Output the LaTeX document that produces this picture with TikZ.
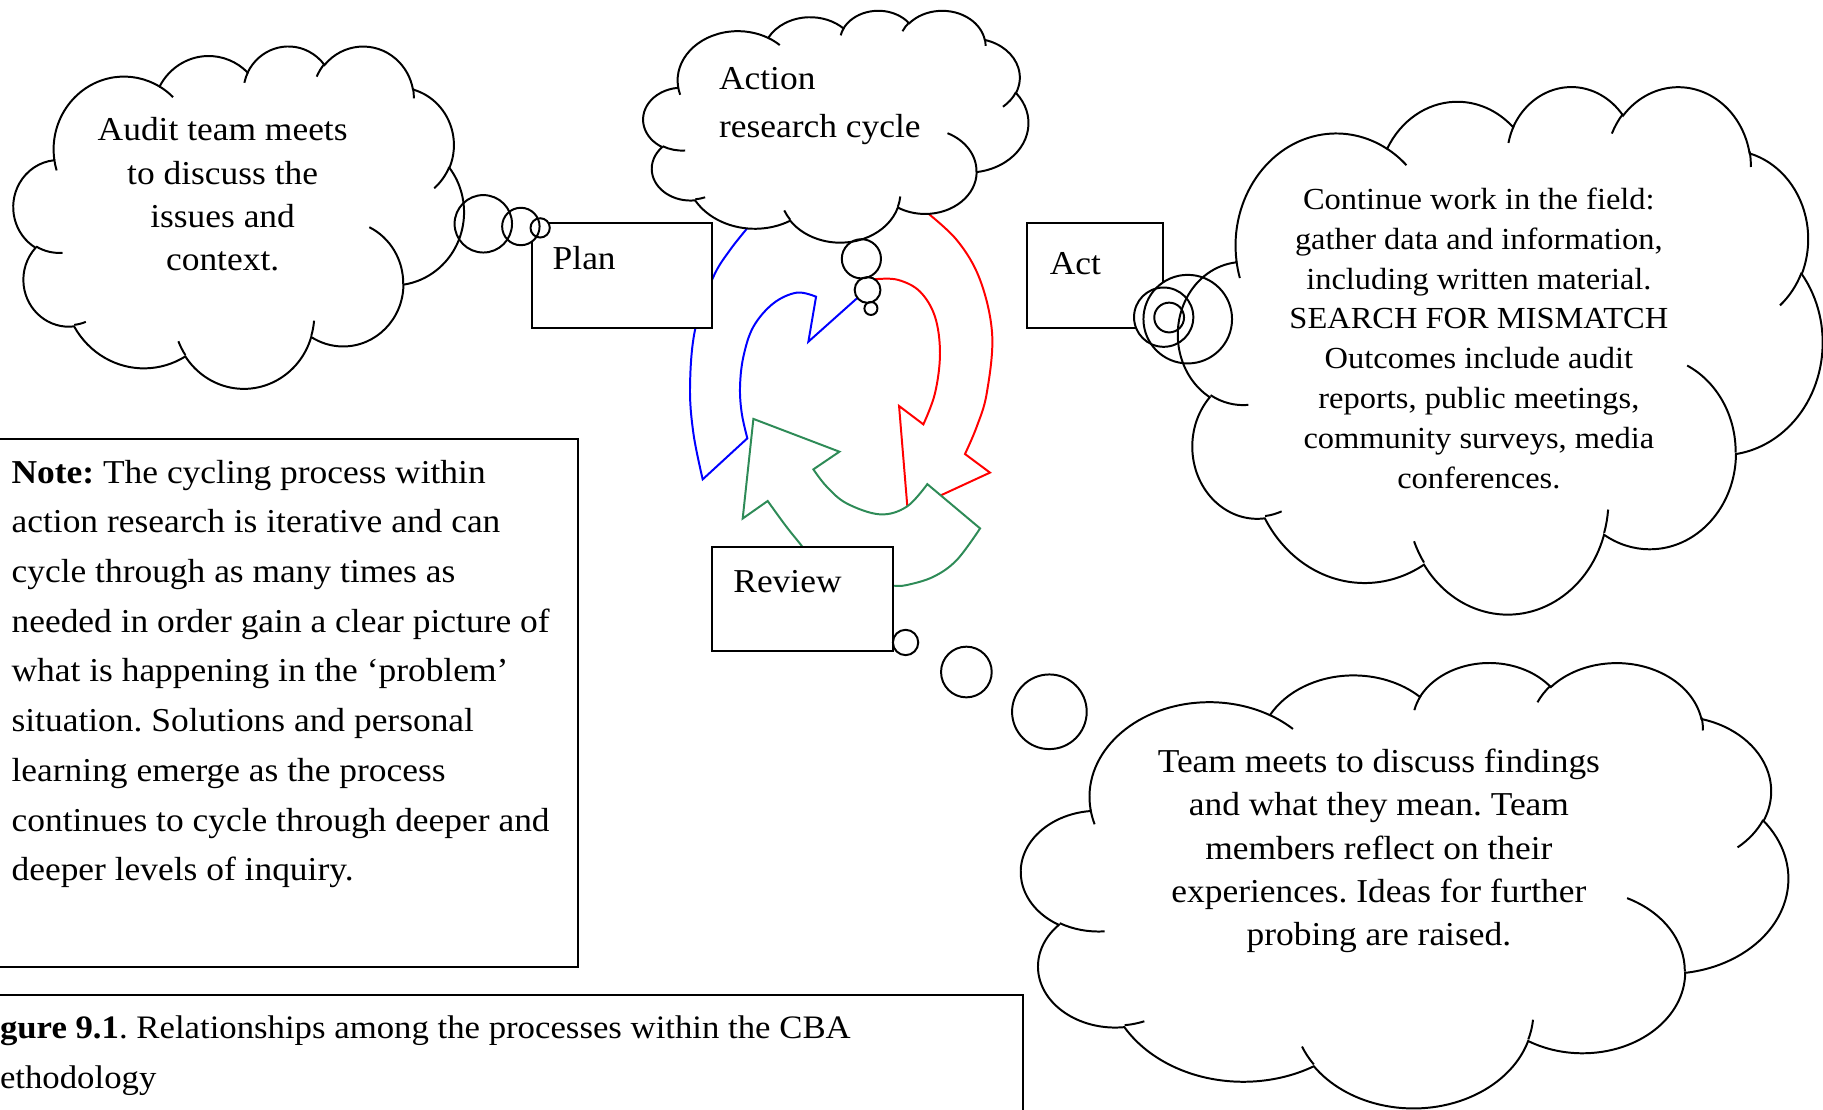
\documentclass[tikz,border=0pt]{standalone}
\usepackage{fontspec}
\setmainfont{Liberation Serif}[FakeStretch=1.06]
\frenchspacing

\definecolor{cyclegreen}{RGB}{46,139,87}

% Cloud geometry: the outline lives in a 4320 x 4320 shape space that is
% stretched onto the box (x, y, w, h) set with \cldset.
\newcommand\cldset[4]{\def\cldx{#1}\def\cldy{#2}\def\cldw{#3}\def\cldh{#4}}
\newcommand\cldpt[2]{({\cldx+#1/4320*\cldw},{\cldy+#2/4320*\cldh})}
% elliptic arc: radii wR, hR; start and sweep as visual angles (degrees)
\newcommand\cloudarc[4]{%
  arc[x radius={#1/4320*\cldw}, y radius={#2/4320*\cldh},
      start angle={atan2(#1*sin(#3),#2*cos(#3))},
      delta angle={mod(atan2(#1*sin(#3+#4),#2*cos(#3+#4))-atan2(#1*sin(#3),#2*cos(#3))+720,360)}]}
\newcommand\cloudoutline{%
  \cldpt{390}{1437}
  \cloudarc{675.3}{919.0}{-190.4875}{123.7805}
  \cloudarc{533.3}{726.7}{-144.1024}{89.9452}
  \cloudarc{436.5}{594.5}{-145.8079}{99.7230}
  \cloudarc{485.7}{659.5}{-130.9861}{117.2417}
  \cloudarc{533.3}{727.3}{-78.7089}{109.0269}
  \cloudarc{677.5}{922.0}{-46.2673}{130.2690}
  \cloudarc{578.5}{786.7}{0.6250}{114.0333}
  \cloudarc{675.2}{921.5}{22.4516}{115.1726}
  \cloudarc{772.0}{1054.3}{66.2426}{75.7110}
  \cloudarc{436.0}{591.8}{-274.9421}{146.7356}
  \cloudarc{434.5}{594.5}{-246.8285}{152.5189}
  -- cycle}
% the short inner strokes where two lobes meet
\newcommand\cloudcreases{%
  \cldpt{469.3}{2617.7}  \cloudarc{434.5}{594.5}{86.7420}{26.4295}
  \cldpt{692.8}{3489.9}  \cloudarc{436.0}{591.8}{73.6105}{11.4475}
  \cldpt{1647.8}{3909.0} \cloudarc{675.2}{921.5}{137.6242}{14.0811}
  \cldpt{2882.7}{3475.1} \cloudarc{675.2}{921.5}{6.4533}{15.9984}
  \cldpt{3412.9}{2295.4} \cloudarc{578.5}{786.7}{-70.2924}{70.9174}
  \cldpt{4179.8}{1535.4} \cloudarc{533.3}{727.3}{30.3180}{27.7515}
  \cldpt{3832.4}{542.6}  \cloudarc{485.7}{659.5}{-13.7443}{14.8589}
  \cldpt{2907.8}{395.2}  \cloudarc{485.7}{659.5}{-149.1815}{18.1954}
  \cldpt{2214.1}{472.0}  \cloudarc{436.5}{594.5}{-163.4943}{17.6864}
  \cldpt{1400.0}{519.2}  \cloudarc{675.3}{919.0}{-66.7070}{12.3194}
  \cldpt{412.7}{1578.9}  \cloudarc{675.3}{919.0}{157.6544}{11.8582}}

% a cloud callout: box, then three thought bubbles (x,y,r)
\newcommand\thoughtcloud[4]{%
  \cldset#1
  \fill[white] \cloudoutline;
  \foreach \bx/\by/\br in {#2,#3,#4} \fill[white] (\bx,\by) circle[radius=\br];
  \draw[cloudline] \cloudoutline;
  \draw[cloudline] \cloudcreases;
  \foreach \bx/\by/\br in {#2,#3,#4} \draw[cloudline] (\bx,\by) circle[radius=\br];}

% block of lines with fixed baseline distance; the node baseline is the first line
\newcommand\txtblock[4]{{\fontsize{#2}{#3}\selectfont\begin{tabular}[t]{@{}#1@{}}#4\end{tabular}}}

% green cycle arrow (open outline; the tail end runs under the Review box)
\newcommand\greenpath{%
  plot[smooth, tension=0.6] coordinates {(700,484) (690.1,470.2) (676,452.5) (660.3,430.9)}
  -- (638.8,446.0) -- (648.0,360.3) -- (722.0,388.5)
  -- plot[smooth, tension=0.6] coordinates {(699.6,403.7) (711.1,418.6) (728.3,433.0) (756.9,442.4) (779.9,435.8) (797.6,416.4)}
  -- plot[smooth, tension=0.6] coordinates {(843.0,454.5) (822.9,481.7) (802.8,496.1) (779.9,503.2) (768.4,503.8) (755,504)}}

\tikzset{
  cloudline/.style={draw=black, line width=0.85pt},
  stepbox/.style={draw=black, fill=white, line width=0.85pt, inner sep=0pt, outer sep=0pt, anchor=north west},
  txt/.style={inner sep=0pt, outer sep=0pt, anchor=base},
  cyclearrow/.style={line width=0.85pt, line join=miter},
}

\begin{document}
\begin{tikzpicture}[x=0.5pt, y=-0.5pt]
\useasboundingbox (0,0) rectangle (1568,954);
\clip (0,0) rectangle (1568,954);

% ---- the three arrows of the action research cycle
\draw[cyclearrow, blue]
  plot[smooth, tension=0.6] coordinates {(646.6,191.7) (627.9,215.0) (613.0,239.4) (597.8,283.8) (593.5,332.6) (596.4,372.7) (604.4,412.3)}
  -- plot[smooth, tension=0.6] coordinates {(642.8,377.0) (638.0,355.5) (636.5,332.6) (639.4,306.8) (648.0,281.0) (665.2,260.9) (685.3,251.7) (701.9,255.2)}
  -- (695.3,293.9) -- (745,249.5);
\draw[cyclearrow, red]
  plot[smooth, tension=0.6] coordinates {(793.2,179.5) (822.9,206.4) (843.0,240.8) (853.4,288.0) (848.7,338.3) (840.1,367.0) (830.0,390.5)}
  -- (851.5,406.5) -- (780.7,439.2) -- (773.3,349.2)
  -- plot[smooth, tension=0.6] coordinates {(794.2,365.0) (804.2,338.3) (808.5,303.9) (804.2,272.4) (791.3,250.8) (772.7,240.8) (754.1,240.0) (749,241.5)};
\fill[white] \greenpath -- cycle;
\draw[cyclearrow, cyclegreen] \greenpath;

% ---- step boxes
\node[stepbox, minimum width=77.4pt, minimum height=45.15pt] (plan) at (457.3,192.1) {};
\node[txt, anchor=base west] (plantext) at (475.4,231.7) {\txtblock{l}{14.37}{16}{Plan}};
\node[stepbox, minimum width=58.25pt, minimum height=45.15pt] (act) at (883.6,192.1) {};
\node[txt, anchor=base west] (acttext) at (903,236) {\txtblock{l}{14.37}{16}{Act}};
\node[stepbox, minimum width=77.85pt, minimum height=44.75pt] (review) at (612.1,470.2) {};
\node[txt, anchor=base west] (reviewtext) at (630.8,509.3) {\txtblock{l}{14.37}{16}{Review}};

% ---- thought clouds
\thoughtcloud{{11.7}{39}{387.3}{294.4}}{415.7/192.5/24.7}{448/194.8/16.1}{464.6/196/8.3}
\node[txt] (audit) at (191.5,121) {\txtblock{c}{14.37}{18.65}{Audit team meets\\to discuss the\\issues and\\context.}};

\thoughtcloud{{553.4}{8.6}{331.1}{199.4}}{740.9/222.6/16.85}{746.2/249.4/11.1}{749.1/265.3/5.6}
\node[txt, anchor=base west] (cycle) at (618.5,76.8) {\txtblock{l}{14.37}{20.65}{Action\\research cycle}};

\thoughtcloud{{1013.5}{73.4}{554}{453.6}}{1021.6/274.5/38.1}{1000.9/272.8/25.5}{1005.6/273.1/12.8}
\node[txt] (field) at (1272,180) {\txtblock{c}{13.17}{17.15}{Continue work in the field:\\gather data and information,\\including written material.\\SEARCH FOR MISMATCH\\Outcomes include audit\\reports, public meetings,\\community surveys, media\\conferences.}};

\thoughtcloud{{878.5}{569}{659.5}{383}}{902.6/612.2/32.1}{831.2/578/21.8}{778.9/552.6/10.9}
\node[txt] (findings) at (1186,664.5) {\txtblock{c}{14.37}{18.625}{Team meets to discuss findings\\and what they mean. Team\\members reflect on their\\experiences. Ideas for further\\probing are raised.}};

% ---- note and caption
\node[stepbox, minimum width=253.5pt, minimum height=226.75pt] (notebox) at (-10,378) {};
\node[txt, anchor=base west] (note) at (10,415.5) {\txtblock{l}{14.37}{21.375}{\textbf{Note:} The cycling process within\\action research is iterative and can\\cycle through as many times as\\needed in order gain a clear picture of\\what is happening in the `problem'\\situation. Solutions and personal\\learning emerge as the process\\continues to cycle through deeper and\\deeper levels of inquiry.}};
\node[stepbox, minimum width=445pt, minimum height=72pt] (captionbox) at (-10,856) {};
\node[txt, anchor=base west] (caption) at (0,893) {\txtblock{l}{14.1}{21.5}{\textbf{\llap{Fi}gure 9.1}. Relationships among the processes within the CBA\\\llap{m}ethodology}};
\end{tikzpicture}
\end{document}
